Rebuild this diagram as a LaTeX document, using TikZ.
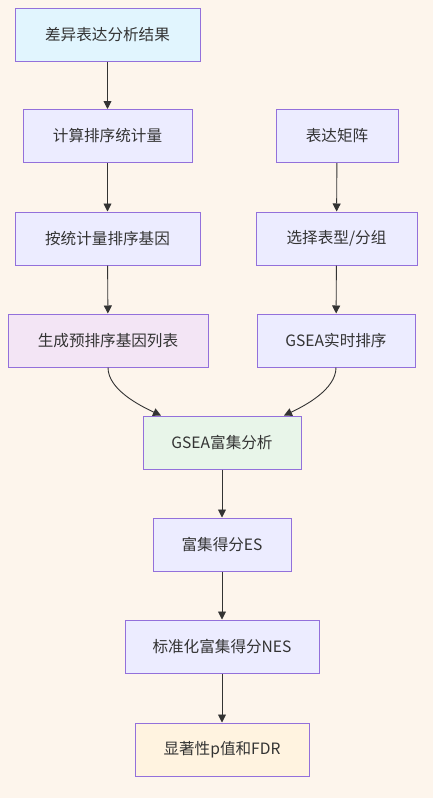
\documentclass[tikz,border=0pt]{standalone}
\usepackage{fontspec}
\setmainfont{Noto Sans CJK SC}
\usepackage{xcolor}
\usetikzlibrary{arrows.meta}

\definecolor{bgcream}{HTML}{FDF5EC}
\definecolor{boxline}{HTML}{9370DB}
\definecolor{textdark}{HTML}{333333}
\definecolor{fillcyan}{HTML}{E1F5FE}
\definecolor{fillblue}{HTML}{ECECFF}
\definecolor{fillpink}{HTML}{F3E5F5}
\definecolor{fillgreen}{HTML}{E8F5E9}
\definecolor{fillorange}{HTML}{FFF3E0}

\tikzset{
    box/.style={draw=boxline, line width=1pt, minimum height=53pt, inner sep=0pt,
        text=textdark, font=\fontsize{15.6}{18}\selectfont},
    flow/.style={draw=textdark, line width=0.9pt, -{Triangle[length=8pt,width=8pt]}}
}

\begin{document}
\begin{tikzpicture}[x=1pt, y=-1pt]
    \useasboundingbox[fill=bgcream] (0,0) rectangle (433,798);

    % Left branch
    \node[box, fill=fillcyan, minimum width=185pt] (deres) at (107.5,34.5) {差异表达分析结果};
    \node[box, fill=fillblue, minimum width=169pt] (calcstat) at (107.5,136) {计算排序统计量};
    \node[box, fill=fillblue, minimum width=185pt] (sortgene) at (107.5,238.5) {按统计量排序基因};
    \node[box, fill=fillpink, minimum width=200pt] (prerank) at (108,340.5) {生成预排序基因列表};

    % Right branch
    \node[box, fill=fillblue, minimum width=122pt] (exprmat) at (337,136) {表达矩阵};
    \node[box, fill=fillblue, minimum width=161pt] (phenotype) at (336.5,238.5) {选择表型/分组};
    \node[box, fill=fillblue, minimum width=158pt] (gsearank) at (336,340.5) {GSEA实时排序};

    % Enrichment chain
    \node[box, fill=fillgreen, minimum width=158pt] (gsea) at (222,442.5) {GSEA富集分析};
    \node[box, fill=fillblue, minimum width=138pt] (es) at (222,544.5) {富集得分ES};
    \node[box, fill=fillblue, minimum width=194pt] (nes) at (222,646.5) {标准化富集得分NES};
    \node[box, fill=fillorange, minimum width=174pt] (fdr) at (222,749.5) {显著性p值和FDR};

    % Straight arrows
    \draw[flow] (deres) -- (calcstat);
    \draw[flow] (calcstat) -- (sortgene);
    \draw[flow] (sortgene) -- (prerank);
    \draw[flow] (exprmat) -- (phenotype);
    \draw[flow] (phenotype) -- (gsearank);
    \draw[flow] (gsea) -- (es);
    \draw[flow] (es) -- (nes);
    \draw[flow] (nes) -- (fdr);

    % Merging into GSEA
    \draw[flow] (prerank.south) to[out=-90, in=155, looseness=0.8] ([xshift=-61pt]gsea.north);
    \draw[flow] (gsearank.south) to[out=-90, in=25, looseness=0.8] ([xshift=62pt]gsea.north);
\end{tikzpicture}
\end{document}
